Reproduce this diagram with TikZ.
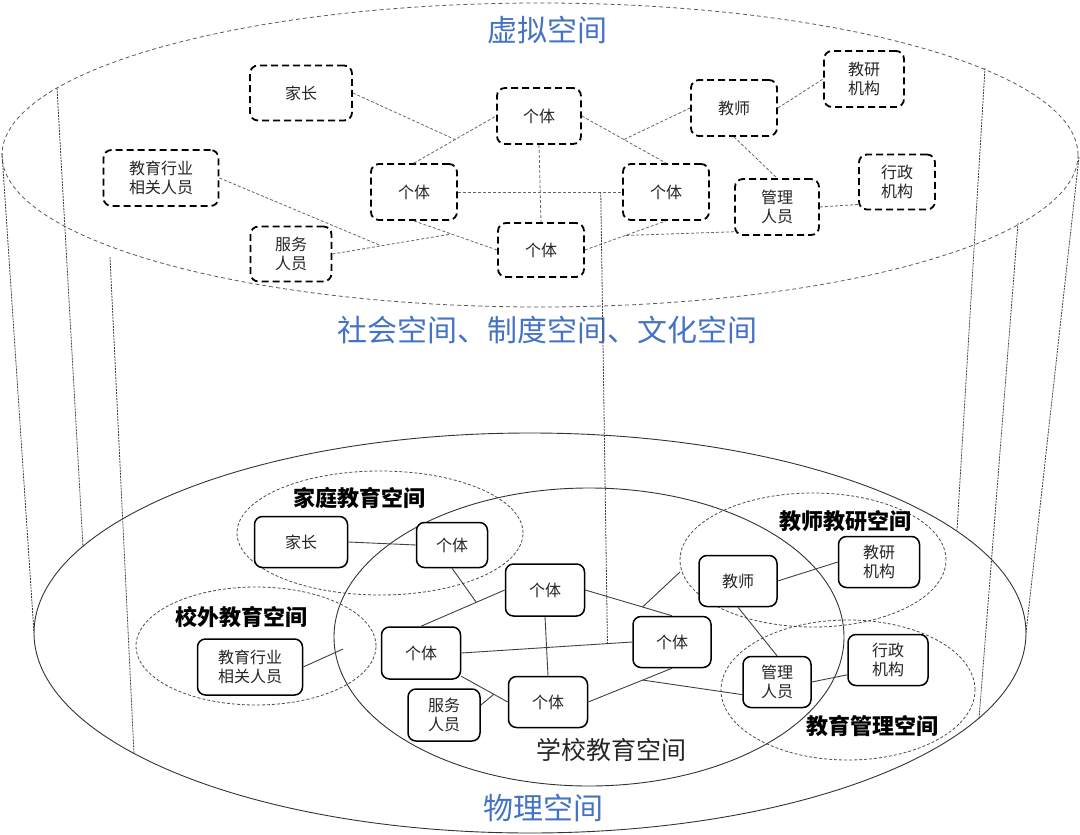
\documentclass[tikz,border=0pt]{standalone}
\usepackage{fontspec}
\setmainfont{Noto Sans CJK SC}
\usetikzlibrary{calc}
\definecolor{titleblue}{RGB}{68,114,196}
\begin{document}
\begin{tikzpicture}[x=1pt,y=-1pt,
    vbox/.style={draw,fill=white,dash pattern=on 7pt off 4pt,line width=1.8pt,rounded corners=8pt,inner sep=0pt,align=center,text=black!85,font=\fontsize{16}{19}\selectfont},
    pbox/.style={draw,fill=white,line width=1.5pt,rounded corners=8pt,inner sep=0pt,align=center,text=black!85,font=\fontsize{16}{19}\selectfont},
    vlink/.style={black!60,dash pattern=on 3pt off 2pt,line width=0.8pt},
    plink/.style={black!75,line width=0.9pt},
    side/.style={black!75,dash pattern=on 2pt off 1pt,line width=0.8pt},
    space/.style={font=\bfseries\fontsize{22}{24}\selectfont},
    title/.style={text=titleblue,font=\fontsize{30}{33}\selectfont}]
    \useasboundingbox (0,0) rectangle (1080,835);
    \draw[black!65,dash pattern=on 4pt off 3pt,line width=0.8pt] (540,155) ellipse [x radius=538pt, y radius=152pt];
    \draw[black!80,line width=0.9pt] (530,633) ellipse [x radius=496pt, y radius=200pt];
    \draw[black!80,line width=0.9pt] (589,637) ellipse [x radius=255pt, y radius=149pt];
    \draw[black!70,dash pattern=on 3pt off 2pt,line width=0.8pt] (380,533) ellipse [x radius=143pt, y radius=62pt];
    \draw[black!70,dash pattern=on 3pt off 2pt,line width=0.8pt] (256,646) ellipse [x radius=120pt, y radius=59pt];
    \draw[black!70,dash pattern=on 3pt off 2pt,line width=0.8pt] (813,560) ellipse [x radius=133pt, y radius=67pt];
    \draw[black!70,dash pattern=on 3pt off 2pt,line width=0.8pt] (848,690) ellipse [x radius=127pt, y radius=70pt];
    \draw[side] (2,153) -- (34,633);
    \draw[side] (57,88) -- (83,547);
    \draw[side] (110,257) -- (134,754);
    \draw[side] (985,68) -- (957,530);
    \draw[side] (1018,223) -- (979,719);
    \draw[side] (1079,157) -- (1026,633);

    \node[title] (virtual) at (547,30) {虚拟空间};
    \node[title] (social) at (547,330) {社会空间、制度空间、文化空间};
    \node[title] (physical) at (543,808) {物理空间};
    \node[font=\fontsize{25}{28}\selectfont,text=black!85] (school) at (611,750) {学校教育空间};
    \node[space] (home) at (359,498) {家庭教育空间};
    \node[space] (outside) at (241,617) {校外教育空间};
    \node[space] (research) at (845,521) {教师教研空间};
    \node[space] (admin) at (872,726) {教育管理空间};

    \node[vbox,minimum width=102pt,minimum height=55pt] (tP) at (301,93) {家长};
    \node[vbox,minimum width=115pt,minimum height=56pt] (tE) at (161,178) {教育行业\\相关人员};
    \node[vbox,minimum width=81pt,minimum height=55pt] (tS) at (291,254) {服务\\人员};
    \node[vbox,minimum width=86pt,minimum height=56pt] (tL) at (414,192) {个体};
    \node[vbox,minimum width=84pt,minimum height=56pt] (tT) at (539,116) {个体};
    \node[vbox,minimum width=86pt,minimum height=54pt] (tB) at (541,250) {个体};
    \node[vbox,minimum width=86pt,minimum height=56pt] (tR) at (666,192) {个体};
    \node[vbox,minimum width=86pt,minimum height=56pt] (tJ) at (734,108) {教师};
    \node[vbox,minimum width=80pt,minimum height=56pt] (tY) at (864,79) {教研\\机构};
    \node[vbox,minimum width=84pt,minimum height=56pt] (tG) at (777,207) {管理\\人员};
    \node[vbox,minimum width=76pt,minimum height=55pt] (tX) at (897,182) {行政\\机构};

    \coordinate (tm1) at ($(tL.north)!0.5!(tT.west)$);
    \coordinate (tm2) at ($(tL.south)!0.45!(tB.west)$);
    \coordinate (tm3) at ($(tS.east)!0.41!(tm2)$);
    \coordinate (tm4) at ($(tT.east)!0.5!(tR.north)$);
    \coordinate (tm5) at ($(tB.east)!0.5!(tR.south)$);
    \coordinate (tmv) at ($(tL.east)!0.87!(tR.west)$);
    \draw[vlink] (tL.north) -- (tT.west);
    \draw[vlink] (tP.east) -- (tm1);
    \draw[vlink] (tL.south) -- (tB.west);
    \draw[vlink] (tS.east) -- (tm2);
    \draw[vlink] (tE.east) -- (tm3);
    \draw[vlink] (tT.east) -- (tR.north);
    \draw[vlink] (tT.south) -- (tB.north);
    \draw[vlink] (tL.east) -- (tR.west);
    \draw[vlink] (tB.east) -- (tR.south);
    \draw[vlink] (tJ.west) -- (tm4);
    \draw[vlink] (tJ.east) -- (tY.west);
    \draw[vlink] (tJ.south) -- (tG.north);
    \draw[vlink] (tG.east) -- (tX.-150);
    \draw[vlink] (tG.-150) -- (tm5);

    \node[pbox,minimum width=93pt,minimum height=51pt] (bP) at (301,542) {家长};
    \node[pbox,minimum width=71pt,minimum height=45pt] (bH) at (452,545) {个体};
    \node[pbox,minimum width=105pt,minimum height=56pt] (bE) at (250,667) {教育行业\\相关人员};
    \node[pbox,minimum width=72pt,minimum height=52pt] (bS) at (444,715) {服务\\人员};
    \node[pbox,minimum width=79pt,minimum height=52pt] (bL) at (421,653) {个体};
    \node[pbox,minimum width=79pt,minimum height=52pt] (bT) at (545,590) {个体};
    \node[pbox,minimum width=79pt,minimum height=51pt] (bB) at (548,702) {个体};
    \node[pbox,minimum width=78pt,minimum height=51pt] (bR) at (672,642) {个体};
    \node[pbox,minimum width=78pt,minimum height=51pt] (bJ) at (738,581) {教师};
    \node[pbox,minimum width=81pt,minimum height=51pt] (bY) at (879,562) {教研\\机构};
    \node[pbox,minimum width=68pt,minimum height=51pt] (bG) at (777,682) {管理\\人员};
    \node[pbox,minimum width=80pt,minimum height=51pt] (bX) at (888,660) {行政\\机构};

    \coordinate (bm1) at ($(bL.north)!0.66!(bT.west)$);
    \coordinate (bm2) at ($(bT.east)!0.66!(bR.north)$);
    \coordinate (bm3) at ($(bL.-30)!0.7!(bB.west)$);
    \coordinate (bm4) at ($(bB.east)!0.65!(bR.south)$);
    \coordinate (bmv) at ($(bL.east)!0.855!(bR.west)$);
    \coordinate (bq) at (680,572);
    \coordinate (bo) at (343,649);
    \draw[plink] (bP.east) -- (bH.west);
    \draw[plink] (bL.north) -- (bT.west);
    \draw[plink] (bH.south) -- (bm1);
    \draw[plink] (bE.east) -- (bo);
    \draw[plink] (bL.east) -- (bR.west);
    \draw[plink] (bT.south) -- (bB.north);
    \draw[plink] (bT.east) -- (bR.north);
    \draw[plink] (bm2) -- (bq);
    \draw[plink] (bL.-30) -- (bB.west);
    \draw[plink] (bS.15) -- (bm3);
    \draw[plink] (bB.east) -- (bR.south);
    \draw[plink] (bG.-160) -- (bm4);
    \draw[plink] (bJ.east) -- (bY.west);
    \draw[plink] (bJ.south) -- (bG.north);
    \draw[plink] (bG.east) -- (bX.-160);

    \draw[side] (tmv) -- (bmv);
\end{tikzpicture}
\end{document}
